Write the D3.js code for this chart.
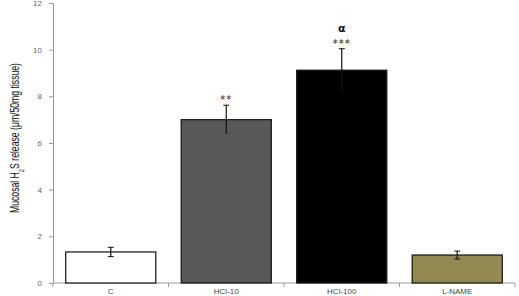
<!DOCTYPE html>
<html><head><meta charset="utf-8">
<script src="https://cdn.jsdelivr.net/npm/d3@7"></script>
<style>body{margin:0;background:#fff}svg{display:block}</style>
</head><body>
<script>
const categories = ["C", "HCl-10", "HCl-100", "L-NAME"];
const values = [1.33, 7.0, 9.12, 1.2];
const errors = [0.2, 0.62, 0.92, 0.17];
const sigLabels = ["", "**", "***", ""];
const extraLabels = ["", "", "α", ""];
const colors = ["#ffffff", "#595959", "#000000", "#938953"];
const yTicks = [0, 2, 4, 6, 8, 10, 12];

const W = 519, H = 296;
const svg = d3.select("body").append("svg").attr("width", W).attr("height", H);
const x = d3.scaleBand().domain(categories).range([53, 515]).paddingInner(0.22).paddingOuter(0.11);
const y = d3.scaleLinear().domain([0, 12]).range([283, 3]);

// y axis
const ya = svg.append("g").attr("transform", "translate(53,0)")
  .call(d3.axisLeft(y).tickValues(yTicks).tickSize(4).tickPadding(7));
ya.select(".domain").attr("stroke", "#999");
ya.selectAll(".tick line").attr("stroke", "#999");
ya.selectAll("text").attr("fill", "#666").style("font-family", "Liberation Sans, Arial").style("font-size", "8px");

// x axis
const xa = svg.append("g").attr("transform", "translate(0,283)");
xa.append("line").attr("x1", 53).attr("x2", 515).attr("stroke", "#999");
const bounds = [53].concat(categories.map(c => x(c) + x.bandwidth() + x.step() * x.paddingInner() / 2));
xa.selectAll(".bt").data(bounds).join("line").attr("x1", d => Math.min(d, 515)).attr("x2", d => Math.min(d, 515)).attr("y1", 0).attr("y2", 4).attr("stroke", "#999");
xa.selectAll(".cl").data(categories).join("text")
  .attr("x", d => x(d) + x.bandwidth() / 2).attr("y", 11).attr("text-anchor", "middle")
  .attr("fill", "#444").style("font-family", "Liberation Sans, Arial").style("font-size", "8px").text(d => d);

// bars
const data = categories.map((c, i) => ({c, v: values[i], e: errors[i], s: sigLabels[i], a: extraLabels[i], col: colors[i]}));
svg.selectAll(".bar").data(data).join("rect")
  .attr("x", d => x(d.c)).attr("width", x.bandwidth())
  .attr("y", d => y(d.v)).attr("height", d => y(0) - y(d.v))
  .attr("fill", d => d.col).attr("stroke", "#111").attr("stroke-width", 1.2);

// error bars
const eb = svg.selectAll(".eb").data(data).join("g");
eb.append("line").attr("x1", d => x(d.c) + x.bandwidth() / 2).attr("x2", d => x(d.c) + x.bandwidth() / 2)
  .attr("y1", d => y(d.v - d.e)).attr("y2", d => y(d.v + d.e)).attr("stroke", "#111").attr("stroke-width", 1.2);
[1, -1].forEach(sign => {
  eb.filter(d => sign > 0 || d.v < 3).append("line")
    .attr("x1", d => x(d.c) + x.bandwidth() / 2 - 3).attr("x2", d => x(d.c) + x.bandwidth() / 2 + 3)
    .attr("y1", d => y(d.v + sign * d.e)).attr("y2", d => y(d.v + sign * d.e))
    .attr("stroke", "#111").attr("stroke-width", 1);
});

// significance
svg.selectAll(".sig").data(data).join("text")
  .attr("x", d => x(d.c) + x.bandwidth() / 2).attr("y", d => y(d.v + d.e) - 2)
  .attr("text-anchor", "middle").attr("fill", "#222")
  .style("font-family", "DejaVu Sans").style("font-size", "10px").style("letter-spacing", "1px").text(d => d.s);
svg.selectAll(".alpha").data(data).join("text")
  .attr("x", d => x(d.c) + x.bandwidth() / 2).attr("y", d => y(d.v + d.e) - 17)
  .attr("text-anchor", "middle").attr("fill", "#111").style("font-weight", "bold")
  .style("font-family", "DejaVu Sans").style("font-size", "11px").text(d => d.a);

// y title
const t = svg.append("text").attr("transform", "translate(19,138) rotate(-90)").attr("text-anchor", "middle")
  .attr("textLength", 150).attr("lengthAdjust", "spacingAndGlyphs")
  .attr("fill", "#111").style("font-family", "Liberation Sans, Arial").style("font-size", "12px");
t.append("tspan").text("Mucosal H");
t.append("tspan").attr("baseline-shift", "sub").style("font-size", "8px").text("2");
t.append("tspan").text("S release (μm/50mg tissue)");
</script>
</body></html>
